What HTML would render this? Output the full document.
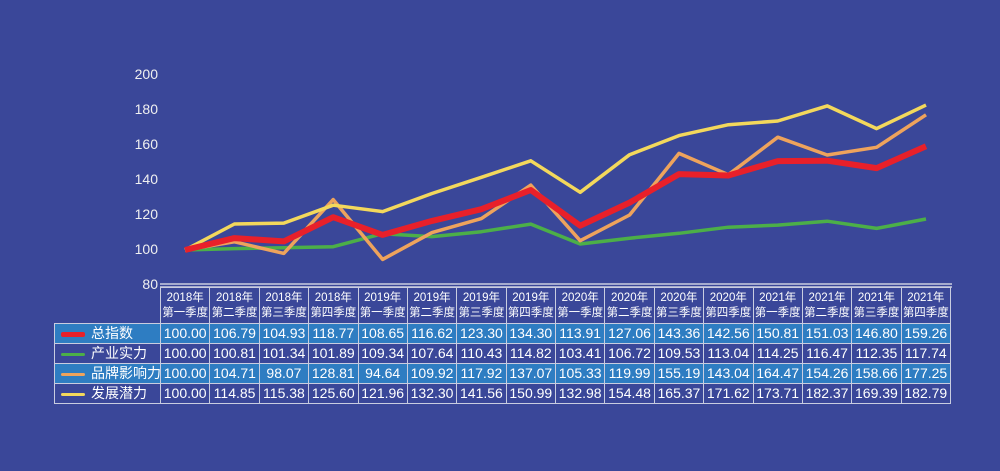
<!DOCTYPE html>
<html><head><meta charset="utf-8"><style>
body{margin:0;width:1000px;height:471px;background:#3a4799;overflow:hidden;position:relative;font-family:"Liberation Sans","Noto Sans CJK SC",sans-serif;color:#fff}
svg{position:absolute;left:0;top:0}
.yl{position:absolute;left:120px;width:38px;text-align:right;font-size:14px;color:#f0f0f0}
table{position:absolute;left:54px;top:287px;border-collapse:collapse;font-size:14px;table-layout:fixed;width:896px}
td{border:1.5px solid #c9cde0;text-align:center;padding:0;height:19px;line-height:19px;white-space:nowrap;overflow:hidden}
tr.h td{height:35px;font-size:11.5px;line-height:15px}
tr.h td.e{border:none;border-bottom:1.5px solid #c9cde0}
td.l{text-align:left;padding-left:6px}
tr.a td{background:#2e7dc2}
.sw{display:inline-block;width:24px;height:4px;vertical-align:middle;margin-right:6px;border-radius:2px}
</style></head><body>
<div class="yl" style="top:66px">200</div>
<div class="yl" style="top:101px">180</div>
<div class="yl" style="top:136px">160</div>
<div class="yl" style="top:171px">140</div>
<div class="yl" style="top:206px">120</div>
<div class="yl" style="top:241px">100</div>
<div class="yl" style="top:276px">80</div>
<svg id="s" width="1000" height="471"></svg>
<table>
<colgroup><col style="width:106px"><col span="16" style="width:49.375px"></colgroup>
<tr class="h"><td class="e l"></td><td>2018年<br>第一季度</td><td>2018年<br>第二季度</td><td>2018年<br>第三季度</td><td>2018年<br>第四季度</td><td>2019年<br>第一季度</td><td>2019年<br>第二季度</td><td>2019年<br>第三季度</td><td>2019年<br>第四季度</td><td>2020年<br>第一季度</td><td>2020年<br>第二季度</td><td>2020年<br>第三季度</td><td>2020年<br>第四季度</td><td>2021年<br>第一季度</td><td>2021年<br>第二季度</td><td>2021年<br>第三季度</td><td>2021年<br>第四季度</td></tr>
<tr class="a"><td class="l"><span class="sw" style="background:#e8202a;height:5px"></span>总指数</td><td>100.00</td><td>106.79</td><td>104.93</td><td>118.77</td><td>108.65</td><td>116.62</td><td>123.30</td><td>134.30</td><td>113.91</td><td>127.06</td><td>143.36</td><td>142.56</td><td>150.81</td><td>151.03</td><td>146.80</td><td>159.26</td></tr>
<tr><td class="l"><span class="sw" style="background:#4caf48;height:3px"></span>产业实力</td><td>100.00</td><td>100.81</td><td>101.34</td><td>101.89</td><td>109.34</td><td>107.64</td><td>110.43</td><td>114.82</td><td>103.41</td><td>106.72</td><td>109.53</td><td>113.04</td><td>114.25</td><td>116.47</td><td>112.35</td><td>117.74</td></tr>
<tr class="a"><td class="l"><span class="sw" style="background:#eea35c;height:3px"></span>品牌影响力</td><td>100.00</td><td>104.71</td><td>98.07</td><td>128.81</td><td>94.64</td><td>109.92</td><td>117.92</td><td>137.07</td><td>105.33</td><td>119.99</td><td>155.19</td><td>143.04</td><td>164.47</td><td>154.26</td><td>158.66</td><td>177.25</td></tr>
<tr><td class="l"><span class="sw" style="background:#f3d85c;height:3px"></span>发展潜力</td><td>100.00</td><td>114.85</td><td>115.38</td><td>125.60</td><td>121.96</td><td>132.30</td><td>141.56</td><td>150.99</td><td>132.98</td><td>154.48</td><td>165.37</td><td>171.62</td><td>173.71</td><td>182.37</td><td>169.39</td><td>182.79</td></tr>
</table>
<script>
var d={g:[100,100.81,101.34,101.89,109.34,107.64,110.43,114.82,103.41,106.72,109.53,113.04,114.25,116.47,112.35,117.74],
o:[100,104.71,98.07,128.81,94.64,109.92,117.92,137.07,105.33,119.99,155.19,143.04,164.47,154.26,158.66,177.25],
y:[100,114.85,115.38,125.6,121.96,132.3,141.56,150.99,132.98,154.48,165.37,171.62,173.71,182.37,169.39,182.79],
r:[100,106.79,104.93,118.77,108.65,116.62,123.3,134.3,113.91,127.06,143.36,142.56,150.81,151.03,146.8,159.26]};
var st={g:['#4caf48',3.5],o:['#eea35c',3.5],y:['#f3d85c',3.5],r:['#e8202a',6]};
var h='<line x1="160" y1="284" x2="952" y2="284" stroke="#c9cde0" stroke-width="1.5"/><line x1="160" y1="287" x2="952" y2="287" stroke="#c9cde0" stroke-width="1.5"/>';
for(var k of ['g','o','y','r']){var p=d[k].map(function(v,i){return (185+i*49.4).toFixed(1)+','+(250-(v-100)*1.75).toFixed(1)}).join(' ');
h+='<polyline points="'+p+'" fill="none" stroke="'+st[k][0]+'" stroke-width="'+st[k][1]+'" stroke-linejoin="round"/>';}
document.getElementById('s').innerHTML=h;
</script>
</body></html>
